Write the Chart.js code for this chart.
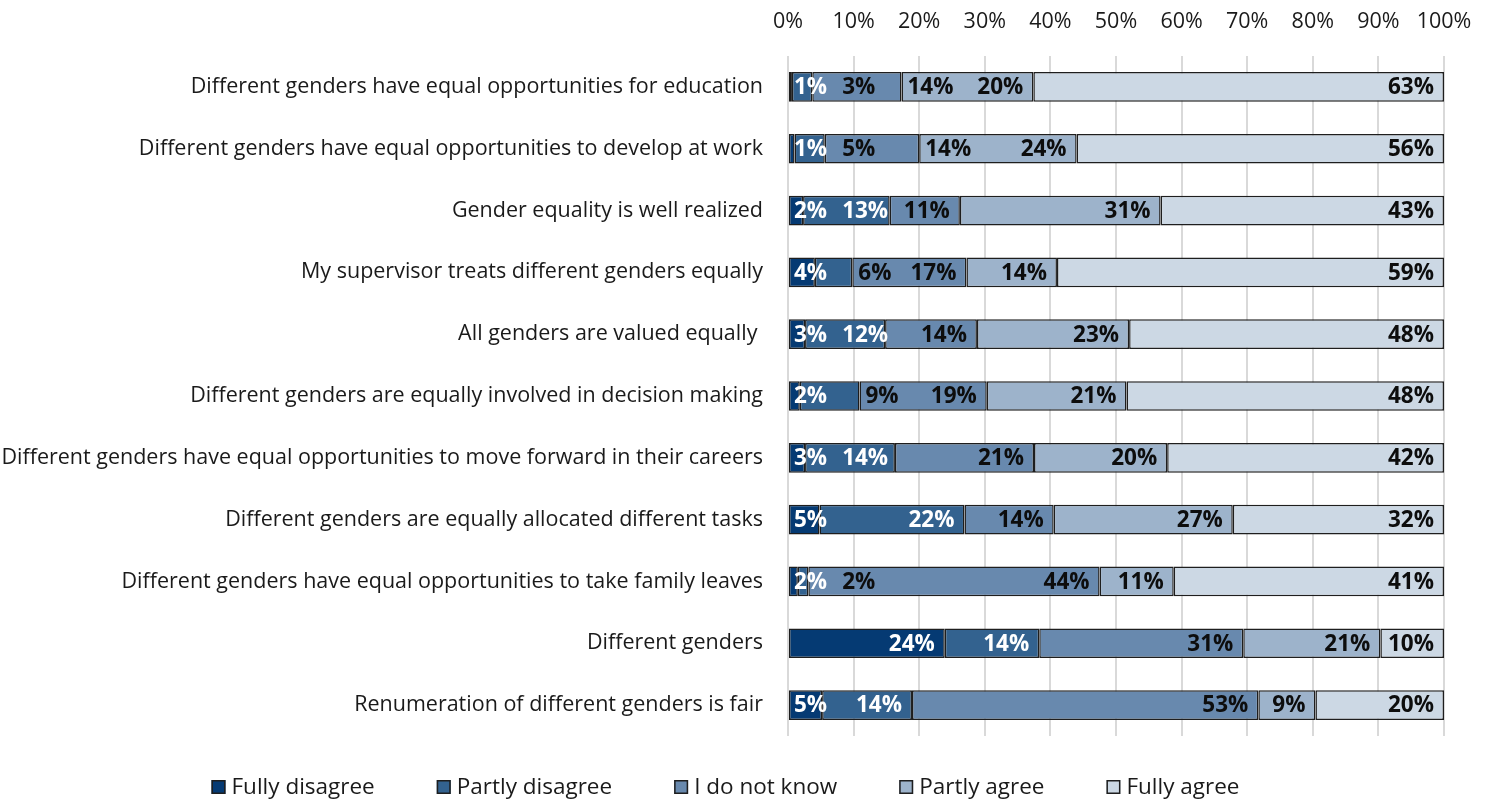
<!DOCTYPE html>
<html>
<head>
<meta charset="utf-8">
<script src="https://cdn.jsdelivr.net/npm/chart.js@4"></script>
<style>
  html, body { margin: 0; padding: 0; background: #ffffff; }
  #wrap { width: 1489px; height: 803px; position: relative; }
</style>
</head>
<body>
<div id="wrap"><canvas id="c"></canvas></div>
<script>
// ---------- DATA ----------
const categories = [
  "Different genders have equal opportunities for education",
  "Different genders have equal opportunities to develop at work",
  "Gender equality is well realized",
  "My supervisor treats different genders equally",
  "All genders are valued equally ",
  "Different genders are equally involved in decision making",
  "Different genders have equal opportunities to move forward in their careers",
  "Different genders are equally allocated different tasks",
  "Different genders have equal opportunities to take family leaves",
  "Different genders",
  "Renumeration of different genders is fair"
];
const seriesNames = ["Fully disagree", "Partly disagree", "I do not know", "Partly agree", "Fully agree"];
const fullyDisagree  = [0.6, 1.0, 2.3, 4.1, 2.6, 1.8, 2.6, 4.8, 1.5, 23.9, 5.2];
const partlyDisagree = [3.1, 4.6, 13.2, 5.7, 12.2, 9.1, 13.7, 22.1, 1.6, 14.4, 13.7];
const doNotKnow      = [13.6, 14.4, 10.7, 17.4, 14.0, 19.4, 21.2, 13.6, 44.4, 31.1, 52.8];
const partlyAgree    = [20.1, 24.0, 30.6, 13.8, 23.2, 21.3, 20.3, 27.3, 11.3, 20.9, 8.7];
const fullyAgree     = [62.6, 56.0, 43.2, 59.0, 48.0, 48.4, 42.2, 32.2, 41.2, 9.7, 19.6];
const xTicks = [0, 10, 20, 30, 40, 50, 60, 70, 80, 90, 100];

// ---------- STYLE ----------
const colors = ["#053a73", "#33628f", "#6889ae", "#9db3cb", "#ccd8e4"];
const FONT = "'Open Sans', 'Noto Sans', sans-serif";
const TEXT_SIZE = 21.5;
const seriesValues = [fullyDisagree, partlyDisagree, doNotKnow, partlyAgree, fullyAgree];

const datasets = seriesNames.map((name, i) => ({
  label: name,
  data: seriesValues[i],
  backgroundColor: colors[i],
  borderColor: "#1e1e1e",
  borderWidth: 1.5,
  borderSkipped: false,
  barPercentage: 0.48,
  categoryPercentage: 1.0
}));

// Data labels: inside end of each segment, pushed right when they would overlap
const labelPlugin = {
  id: "segLabels",
  afterDatasetsDraw(chart) {
    const ctx = chart.ctx;
    ctx.save();
    ctx.font = "bold 22.5px " + FONT;
    ctx.textBaseline = "middle";
    ctx.textAlign = "left";
    const n = categories.length;
    for (let r = 0; r < n; r++) {
      let prevEnd = null;
      for (let s = 0; s < chart.data.datasets.length; s++) {
        const el = chart.getDatasetMeta(s).data[r];
        if (!el) continue;
        const p = el.getProps(["x", "y", "base"], true);
        const segEnd = Math.max(p.x, p.base);
        const segStart = Math.min(p.x, p.base);
        const txt = Math.round(chart.data.datasets[s].data[r]) + "%";
        const w = ctx.measureText(txt).width;
        let start = segEnd - 10 - w;
        const minStart = prevEnd === null ? segStart + 5 : prevEnd + 15;
        if (start < minStart) {
          start = minStart;
          if (s > 0 && start < segEnd && start + w - segEnd > 8) start = segEnd + 6;
        }
        const center = start + w / 2;
        let color = "#0d0d0d";
        if (s === 0) color = "#ffffff";
        else if (s === 1 && center < segEnd) color = "#ffffff";
        ctx.fillStyle = color;
        ctx.fillText(txt, start, p.y + 1);
        prevEnd = start + w;
      }
    }
    ctx.restore();
  }
};

// Legend drawn under the plot
const legendPlugin = {
  id: "bottomLegend",
  afterDraw(chart) {
    const ctx = chart.ctx;
    ctx.save();
    ctx.font = "22.5px " + FONT;
    ctx.textBaseline = "middle";
    ctx.textAlign = "left";
    const box = 14, boxGap = 6, itemGap = 62;
    const widths = seriesNames.map(s => box + boxGap + ctx.measureText(s).width);
    const total = widths.reduce((a, b) => a + b, 0) + itemGap * (widths.length - 1);
    let x = chart.width / 2 - 19 - total / 2;
    const y = chart.chartArea.bottom + 51;
    seriesNames.forEach((name, i) => {
      ctx.fillStyle = colors[i];
      ctx.fillRect(x, y - box / 2, box, box);
      ctx.strokeStyle = "#1e1e1e";
      ctx.lineWidth = 1.5;
      ctx.strokeRect(x + 0.75, y - box / 2 + 0.75, box - 1.5, box - 1.5);
      ctx.fillStyle = "#1a1a1a";
      ctx.fillText(name, x + box + boxGap, y + 1);
      x += widths[i] + itemGap;
    });
    ctx.restore();
  }
};

new Chart(document.getElementById("c"), {
  type: "bar",
  data: { labels: categories, datasets },
  plugins: [labelPlugin, legendPlugin],
  options: {
    indexAxis: "y",
    responsive: true,
    maintainAspectRatio: false,
    animation: false,
    layout: { padding: { left: 0, right: 45, top: 4, bottom: 67 } },
    scales: {
      x: {
        position: "top",
        stacked: true,
        min: 0,
        max: 100,
        afterBuildTicks(scale) { scale.ticks = xTicks.map(v => ({ value: v })); },
        afterFit(scale) {
          scale.height = 52;
          scale.paddingLeft = 0;
          scale.paddingRight = 0;
        },
        ticks: {
          padding: 21,
          color: "#1a1a1a",
          font: { family: FONT, size: TEXT_SIZE },
          callback: v => v + "%"
        },
        grid: { color: "#d9d9d9", lineWidth: 2, drawTicks: false },
        border: { display: false }
      },
      y: {
        stacked: true,
        afterFit(scale) { scale.width = 788; },
        ticks: {
          padding: 25,
          color: "#1a1a1a",
          font: { family: FONT, size: TEXT_SIZE }
        },
        grid: { display: false, drawTicks: false },
        border: { display: false }
      }
    },
    plugins: {
      legend: { display: false },
      tooltip: { enabled: false }
    }
  }
});
</script>
</body>
</html>
